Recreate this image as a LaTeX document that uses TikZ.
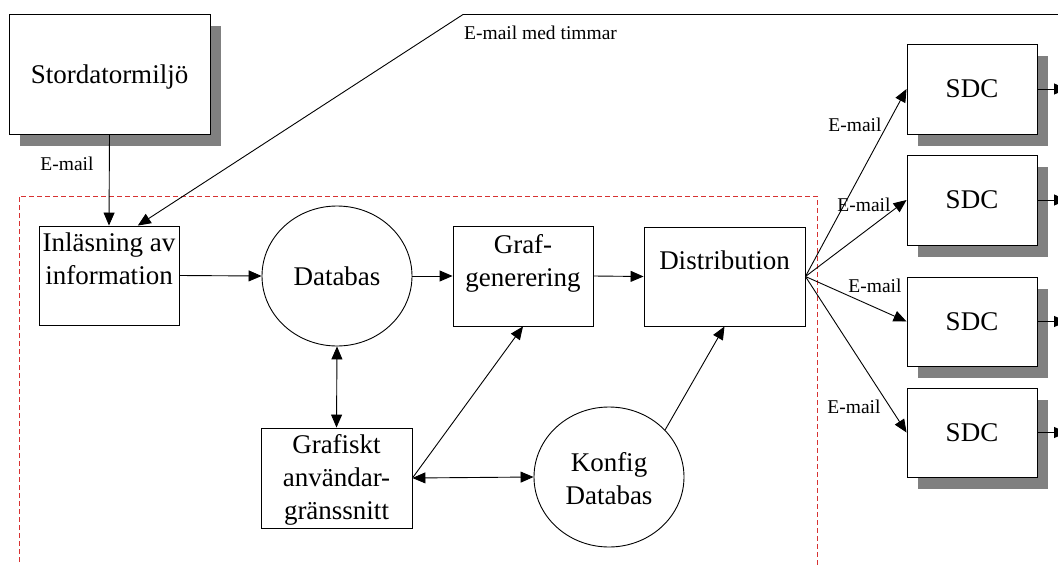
\documentclass[tikz,border=0pt]{standalone}
\usepackage{fontspec}
\setmainfont{Liberation Serif}
\usetikzlibrary{arrows.meta,shapes.geometric,shadows}
\definecolor{shadowgray}{RGB}{128,128,128}
\definecolor{dashred}{RGB}{215,50,50}
\newcommand\liftup[2]{\raisebox{#1}[\height][\depth]{\begin{tabular}{@{}c@{}}#2\end{tabular}}}
\begin{document}
\begin{tikzpicture}[x=1pt,y=-1pt,
  every node/.style={font=\fontsize{27}{33}\selectfont},
  conn/.style={line width=0.9pt, -{Triangle[length=13pt,width=11pt]}},
  biconn/.style={line width=0.9pt, {Triangle[length=13pt,width=11pt]}-{Triangle[length=13pt,width=11pt]}},
  box/.style={draw, line width=0.9pt, fill=white, inner sep=0pt, rectangle},
  shadowbox/.style={box, drop shadow={shadow xshift=11pt, shadow yshift=-12pt, fill=shadowgray, opacity=1}},
  oval/.style={draw, ellipse, line width=0.9pt, fill=white, inner sep=0pt, minimum width=150pt, minimum height=140pt},
  lbl/.style={font=\fontsize{19.5}{22}\selectfont, inner sep=0pt}
]
\useasboundingbox (0,0) rectangle (1058,565);
\clip (0,0) rectangle (1058,565);

% dashed system frame
\draw[dashred, dash pattern=on 5pt off 3pt, line width=1pt] (19,570) -- (19,196) -- (817,196) -- (817,570);

% nodes
\node[shadowbox, minimum width=201pt, minimum height=120pt] (stor) at (109.5,74) {\liftup{-3pt}{Stordatormiljö}};
\node[box, minimum width=140pt, minimum height=99pt] (inl) at (109,275.5) {\liftup{14pt}{Inläsning av\\information}};
\node[oval] (db) at (337,276) {Databas};
\node[box, minimum width=140pt, minimum height=100pt] (graf) at (523,276) {\liftup{12.5pt}{Graf-\\generering}};
\node[box, minimum width=161pt, minimum height=99pt] (dist) at (724.5,276.5) {\liftup{14pt}{Distribution}};
\node[box, minimum width=151pt, minimum height=100pt] (gui) at (336.5,478) {\liftup{-2pt}{Grafiskt\\användar-\\gränssnitt}};
\node[oval] (konfig) at (609,477) {\liftup{-4pt}{Konfig\\Databas}};

\node[shadowbox, minimum width=130pt, minimum height=90pt] (sdc1) at (972,89) {SDC};
\node[shadowbox, minimum width=130pt, minimum height=90pt] (sdc2) at (972,200) {SDC};
\node[shadowbox, minimum width=130pt, minimum height=89pt] (sdc3) at (972,321.5) {SDC};
\node[shadowbox, minimum width=130pt, minimum height=89pt] (sdc4) at (972,432.5) {SDC};

% free ends
\coordinate (topright) at (1075,14.5);
\coordinate (bend) at (463,14.5);
\coordinate (out1) at (1067,89);
\coordinate (out2) at (1067,200);
\coordinate (out3) at (1067,321.5);
\coordinate (out4) at (1067,432.5);

% connectors
\draw[conn] (stor.south) -- (inl.north);
\node[lbl] (lmail) at (67,164) {E-mail};
\draw[conn] (topright) -- (bend) -- (inl.60);
\node[lbl, anchor=west] (ltim) at (464,33) {E-mail med timmar};

\draw[conn] (inl.east) -- (db.west);
\draw[conn] (db.east) -- (graf.west);
\draw[conn] (graf.east) -- (dist.west);
\draw[biconn] (db.south) -- (gui.north);
\draw[biconn] (gui.east) -- (konfig.west);
\draw[conn] (gui.east) -- (graf.south);
\draw[conn] (konfig.40) -- (dist.south);

\draw[conn] (dist.east) -- (sdc1.west);
\draw[conn] (dist.east) -- (sdc2.west);
\draw[conn] (dist.east) -- (sdc3.west);
\draw[conn] (dist.east) -- (sdc4.west);
\node[lbl] (l1) at (855,125) {E-mail};
\node[lbl] (l2) at (864,205) {E-mail};
\node[lbl] (l3) at (875,286) {E-mail};
\node[lbl] (l4) at (854,407) {E-mail};

\draw[conn] (sdc1.east) -- (out1);
\draw[conn] (sdc2.east) -- (out2);
\draw[conn] (sdc3.east) -- (out3);
\draw[conn] (sdc4.east) -- (out4);
\end{tikzpicture}
\end{document}
